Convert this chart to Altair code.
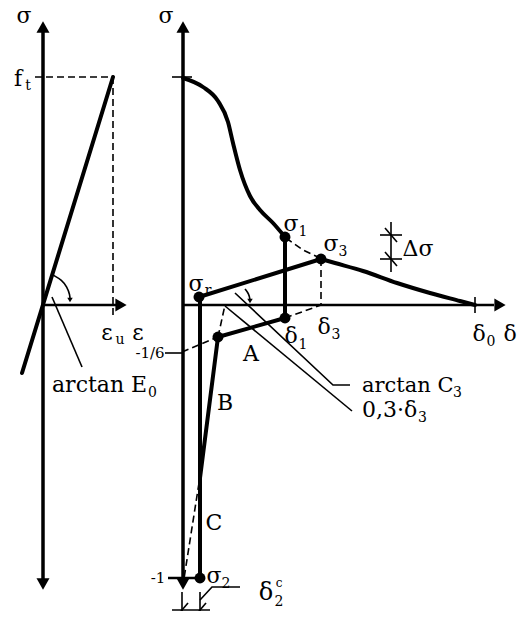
import altair as alt
import pandas as pd

FONT = "DejaVu Serif"

# ---------- geometry (image pixel coordinates) ----------
thick_lines = {
    "E0 line": [(113, 77), (22, 373)],
    "sr-s3": [(199, 297), (321, 259)],
    "s1-d1": [(285, 237), (285, 318)],
    "A line": [(218, 337), (285, 318)],
    "B line": [(218, 337), (200, 478)],
    "sr vertical": [(200, 297), (200, 578)],
}
axis_lines = {
    "left sigma": [(43, 32), (43, 580)],
    "right sigma": [(183, 32), (183, 580)],
}
axis_h_lines = {
    "eps axis": [(43, 305), (116, 305)],
    "delta axis": [(183, 305), (494, 305)],
    "-1 base": [(168, 578), (200, 578)],
}
curve_softening = [(183, 78), (203, 87), (218, 101), (228, 122), (233, 143), (240, 170),
                   (250, 196), (260, 210), (273, 223), (285, 237)]
curve_tail = [(321, 259), (335, 263), (363, 271), (397, 283), (430, 293), (460, 301), (475, 305)]

dashed_lines = {
    "ft h": [(35, 77), (113, 77)],
    "eu v": [(113, 77), (113, 318)],
    "s1-s3": [(286, 238), (303, 250), (320, 258)],
    "s3 v": [(321, 259), (321, 305)],
    "d1-d3": [(285, 318), (321, 305)],
    "A-1/6": [(182, 352), (218, 337)],
    "A up": [(218, 337), (225, 305)],
    "B down": [(199, 483), (183, 585)],
}
thin_lines = {
    "E0 leader": [(52, 297), (82, 367)],
    "C3 leader": [(235, 293), (333, 385), (350, 385)],
    "03 leader": [(225, 306), (352, 411)],
    "-1/6 tick": [(165, 353), (183, 353)],
    "ft tick": [(172, 77), (192, 77)],
    "d0 tick": [(475, 297), (475, 313)],
    "ds v": [(391, 222), (391, 272)],
    "ds h1": [(380, 235), (402, 235)],
    "ds h2": [(380, 259), (402, 259)],
    "ds s1": [(385, 228), (397, 242)],
    "ds s2": [(385, 252), (397, 266)],
    "bot h": [(172, 610), (210, 610)],
    "bot v1": [(182, 592), (182, 619)],
    "bot v2": [(200, 592), (200, 619)],
    "bot s1": [(176, 617), (188, 603)],
    "bot s2": [(194, 617), (206, 603)],
    "d2c leader": [(200, 600), (212, 587), (240, 587)],
}
arcs = {
    "E0 arc": [(53, 275), (62, 280), (67, 287), (70, 295), (70, 300)],
    "C3 arc": [(245, 289), (249, 294), (250, 300)],
}

dots_x = [199, 285, 321, 285, 218, 200]
dots_y = [297, 237, 259, 318, 337, 578]

arrows = [  # x, y, shape, size
    (43, 27, "triangle-up", 170), (43, 584, "triangle-down", 170),
    (183, 27, "triangle-up", 170), (183, 584, "triangle-down", 170),
    (121, 305, "triangle-right", 170), (500, 305, "triangle-right", 170),
    (70, 300, "triangle-down", 30), (250, 301, "triangle-down", 30),
]

# labels: x, y (alphabetic baseline), text, font size
labels_center = [
    (24, 23, "σ", 22), (166, 23, "σ", 22),
    (18, 86, "f", 22), (28, 90, "t", 14),
    (107, 340, "ε", 22), (120, 344, "u", 14), (138, 340, "ε", 22),
    (150, 358, "-1/6", 15),
    (196, 291, "σ", 22), (208, 295, "r", 14),
    (291, 231, "σ", 22), (303, 236, "1", 14),
    (331, 251, "σ", 22), (343, 256, "3", 14),
    (418, 256, "Δσ", 22),
    (291, 343, "δ", 22), (303, 349, "1", 14),
    (324, 334, "δ", 22), (336, 339, "3", 14),
    (479, 341, "δ", 22), (491, 346, "0", 14),
    (510, 341, "δ", 22),
    (251, 361, "A", 22), (225, 410, "B", 22), (214, 530, "C", 22),
    (158, 583, "-1", 15),
    (214, 583, "σ", 22), (226, 588, "2", 14),
    (266, 600, "δ", 24), (279, 587, "c", 12), (279, 606, "2", 14),
]
labels_left = [
    (52, 392, "arctan E", 22), (148, 397, "0", 14),
    (362, 392, "arctan C", 21), (453, 397, "3", 14),
    (362, 417, "0,3·δ", 22), (418, 422, "3", 14),
]

# ---------- build tables ----------
def poly_table(d):
    rows = []
    for k, pts in d.items():
        for i, (x, y) in enumerate(pts):
            rows.append({"id": k, "o": i, "x": x, "y": y})
    return pd.DataFrame(rows)

X = alt.Scale(domain=[8, 518], nice=False, zero=False)
Y = alt.Scale(domain=[8, 611], nice=False, zero=False, reverse=True)

def enc(m):
    return m.encode(
        x=alt.X("x:Q", scale=X, axis=None),
        y=alt.Y("y:Q", scale=Y, axis=None),
        detail="id:N",
        order="o:Q",
    )

layers = []
layers.append(enc(alt.Chart(poly_table(thick_lines)).mark_line(color="black", strokeWidth=4, strokeCap="round")))
layers.append(enc(alt.Chart(poly_table(axis_lines)).mark_line(color="black", strokeWidth=3.5)))
layers.append(enc(alt.Chart(poly_table(axis_h_lines)).mark_line(color="black", strokeWidth=2.5)))
layers.append(enc(alt.Chart(poly_table({"soft": curve_softening, "tail": curve_tail})).mark_line(
    color="black", strokeWidth=4, interpolate="monotone", strokeCap="round")))
layers.append(enc(alt.Chart(poly_table(dashed_lines)).mark_line(color="black", strokeWidth=1.6, strokeDash=[7, 4])))
layers.append(enc(alt.Chart(poly_table(thin_lines)).mark_line(color="black", strokeWidth=1.6)))
layers.append(enc(alt.Chart(poly_table(arcs)).mark_line(color="black", strokeWidth=1.6, interpolate="basis")))

dots = pd.DataFrame({"x": dots_x, "y": dots_y})
layers.append(alt.Chart(dots).mark_circle(color="black", size=120, opacity=1).encode(
    x=alt.X("x:Q", scale=X, axis=None), y=alt.Y("y:Q", scale=Y, axis=None)))

arr = pd.DataFrame(arrows, columns=["x", "y", "shape", "size"])
layers.append(alt.Chart(arr).mark_point(color="black", filled=True, opacity=1).encode(
    x=alt.X("x:Q", scale=X, axis=None), y=alt.Y("y:Q", scale=Y, axis=None),
    shape=alt.Shape("shape:N", scale=None), size=alt.Size("size:Q", scale=None)))

lc = pd.DataFrame(labels_center, columns=["x", "y", "t", "size"])
layers.append(alt.Chart(lc).mark_text(font=FONT, color="black", align="center", baseline="alphabetic").encode(
    x=alt.X("x:Q", scale=X, axis=None), y=alt.Y("y:Q", scale=Y, axis=None),
    text="t:N", size=alt.Size("size:Q", scale=None)))
ll = pd.DataFrame(labels_left, columns=["x", "y", "t", "size"])
layers.append(alt.Chart(ll).mark_text(font=FONT, color="black", align="left", baseline="alphabetic").encode(
    x=alt.X("x:Q", scale=X, axis=None), y=alt.Y("y:Q", scale=Y, axis=None),
    text="t:N", size=alt.Size("size:Q", scale=None)))

chart = alt.layer(*layers).properties(
    width=510, height=603, padding=0, autosize=alt.AutoSizeParams(type="none"), background="white"
).configure_view(stroke=None)

chart.save("out.html", embed_options={"renderer": "svg", "actions": False})
